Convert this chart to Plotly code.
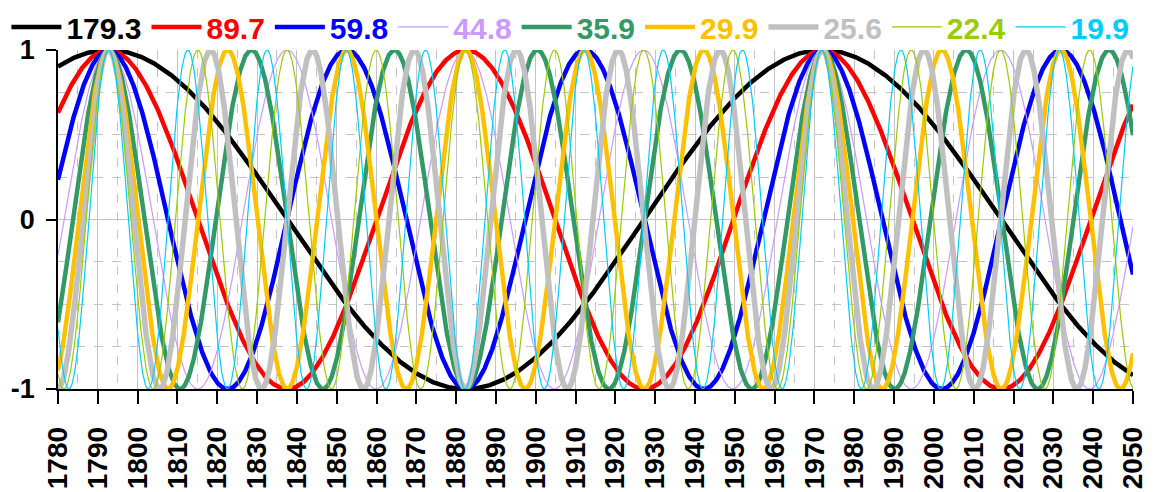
import numpy as np
import plotly.graph_objects as go

# Cycle periods (years) shown in the legend
periods = [179.3, 89.7, 59.8, 44.8, 35.9, 29.9, 25.6, 22.4, 19.9]
labels = ["179.3", "89.7", "59.8", "44.8", "35.9", "29.9", "25.6", "22.4", "19.9"]
colors = ["#000000", "#FF0000", "#0000FF", "#CC99FF", "#339966",
          "#FFC000", "#C0C0C0", "#99CC00", "#00CCFF"]
widths = [4.5, 4.5, 4.5, 1.2, 4.5, 4.5, 5.5, 1.2, 1.2]

peak_year = 1792.7          # common crest of all cycles
year_start, year_end = 1780, 2050
x_ticks = list(range(1780, 2051, 10))
y_ticks = [-1, 0, 1]

years = np.arange(year_start, year_end + 0.001, 0.1)

fig = go.Figure()
for p, lab, c, w in zip(periods, labels, colors, widths):
    fig.add_trace(go.Scatter(
        x=years,
        y=np.cos(2 * np.pi * (years - peak_year) / p),
        mode="lines",
        line=dict(color=c, width=w),
        name=f"<span style='color:{c}'>{lab}</span>",
    ))

font_family = "Liberation Sans, Arial, sans-serif"

fig.update_layout(
    width=1149, height=484,
    margin=dict(l=50, r=24, t=42, b=103, autoexpand=False),
    paper_bgcolor="white", plot_bgcolor="white",
    font=dict(family=font_family, color="black"),
    showlegend=True,
    legend=dict(
        orientation="h", x=-0.048, xanchor="left", y=1.068, yanchor="middle",
        font=dict(size=30, family=font_family, weight=700),
        bgcolor="rgba(0,0,0,0)", itemwidth=50,
        tracegroupgap=0,
    ),
)

fig.update_xaxes(
    range=[year_start, year_end],
    tickvals=x_ticks, ticktext=[str(v) for v in x_ticks],
    tickangle=-90,
    tickfont=dict(size=28, family=font_family, weight=700, color="black"),
    ticks="outside", ticklen=13, tickcolor="black", tickwidth=1.5,
    ticklabelstandoff=12,
    showline=True, linecolor="black", linewidth=1.5,
    showgrid=True, gridcolor="#C4C4C4", gridwidth=1,
    minor=dict(dtick=5, tick0=1785, showgrid=True, gridcolor="#C4C4C4",
               griddash="dash", gridwidth=1, ticks=""),
    zeroline=False,
)

fig.update_yaxes(
    range=[-1, 1],
    tickvals=y_ticks, ticktext=["-1", "0", "1"],
    tickfont=dict(size=27, family=font_family, weight=700, color="black"),
    ticks="outside", ticklen=10, tickcolor="black", tickwidth=1.5,
    ticklabelstandoff=6,
    showline=True, linecolor="black", linewidth=1.5,
    showgrid=True, gridcolor="#C4C4C4", gridwidth=1,
    minor=dict(dtick=0.25, tick0=0, showgrid=True, gridcolor="#C4C4C4",
               griddash="dash", gridwidth=1, ticks=""),
    zeroline=False,
)

fig.write_html("out.html")
